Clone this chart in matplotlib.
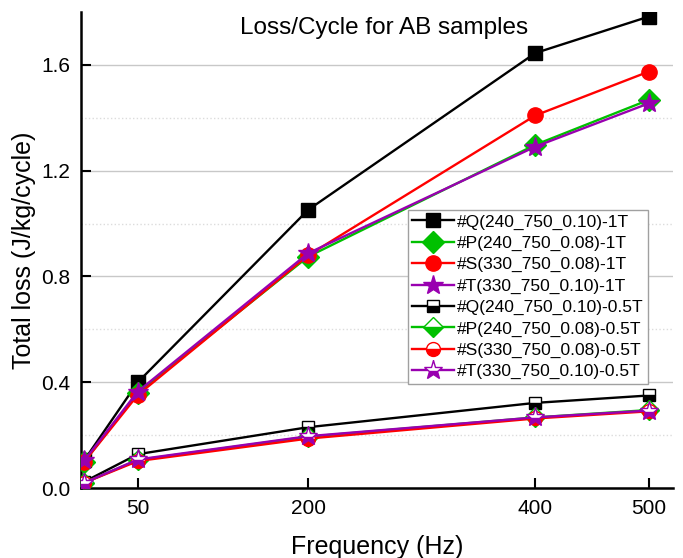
import matplotlib
matplotlib.use('Agg')
import matplotlib.pyplot as plt
from matplotlib.ticker import FixedLocator

plt.rcParams['font.family'] = ['Liberation Sans', 'DejaVu Sans']

# frequency points (Hz)
freq = [3, 50, 200, 400, 500]

# loss per cycle at 1T
q_1t = [0.106, 0.400, 1.052, 1.645, 1.783]
p_1t = [0.100, 0.360, 0.875, 1.298, 1.468]
s_1t = [0.100, 0.352, 0.880, 1.409, 1.575]
t_1t = [0.105, 0.365, 0.888, 1.291, 1.455]

# loss per cycle at 0.5T
q_05t = [0.024, 0.128, 0.230, 0.322, 0.350]
p_05t = [0.020, 0.106, 0.194, 0.267, 0.295]
s_05t = [0.020, 0.102, 0.187, 0.263, 0.290]
t_05t = [0.020, 0.108, 0.196, 0.267, 0.293]

labels_1t = ['#Q(240_750_0.10)-1T', '#P(240_750_0.08)-1T',
             '#S(330_750_0.08)-1T', '#T(330_750_0.10)-1T']
labels_05t = ['#Q(240_750_0.10)-0.5T', '#P(240_750_0.08)-0.5T',
              '#S(330_750_0.08)-0.5T', '#T(330_750_0.10)-0.5T']

colors = ['#000000', '#00c000', '#ff0000', '#9900b0']
markers = ['s', 'D', 'o', '*']
msizes = [10, 11, 11, 15]

fig = plt.figure(figsize=(6.83, 5.58), dpi=100)
ax = fig.add_axes([0.1186, 0.1254, 0.8664, 0.853])

for y, lab, c, m, ms in zip([q_1t, p_1t, s_1t, t_1t], labels_1t, colors, markers, msizes):
    ax.plot(freq, y, color=c, marker=m, markersize=ms, linewidth=1.7, label=lab, zorder=3)

for y, lab, c, m, ms in zip([q_05t, p_05t, s_05t, t_05t], labels_05t, colors, markers, msizes):
    ax.plot(freq, y, color=c, marker=m, markersize=ms - 1, linewidth=1.7, label=lab,
            fillstyle='bottom', markerfacecoloralt='white', markeredgecolor=c, zorder=3)

ax.set_xlim(0, 521)
ax.set_ylim(0, 1.8)
ax.set_xticks([50, 200, 400, 500])
ax.set_yticks([0.0, 0.4, 0.8, 1.2, 1.6])
ax.set_yticklabels(['0.0', '0.4', '0.8', '1.2', '1.6'])
ax.yaxis.set_minor_locator(FixedLocator([0.2, 0.6, 1.0, 1.4]))
ax.tick_params(axis='both', which='major', direction='in', length=7, width=1.5,
               labelsize=15, pad=8)
ax.tick_params(axis='y', which='minor', length=0)

ax.grid(axis='y', which='major', color='#c8c8c8', linewidth=1.0, linestyle='-')
ax.grid(axis='y', which='minor', color='#dcdcdc', linewidth=1.0, linestyle=':')
ax.set_axisbelow(True)

for side in ['top', 'right']:
    ax.spines[side].set_visible(False)
for side in ['left', 'bottom']:
    ax.spines[side].set_linewidth(1.8)

ax.set_xlabel('Frequency (Hz)', fontsize=18, labelpad=12)
ax.set_ylabel('Total loss (J/kg/cycle)', fontsize=18, labelpad=3)
ax.text(0.512, 0.99, 'Loss/Cycle for AB samples', transform=ax.transAxes,
        ha='center', va='top', fontsize=17.5)

leg = ax.legend(loc='upper left', bbox_to_anchor=(0.552, 0.584), fontsize=12.5,
                frameon=True, fancybox=False, edgecolor='#a0a0a0', framealpha=1,
                handlelength=2.4, labelspacing=0.35, borderpad=0.25, handletextpad=0.2,
                borderaxespad=0)
leg.get_frame().set_linewidth(1.0)

plt.savefig('out.png', dpi=100)
